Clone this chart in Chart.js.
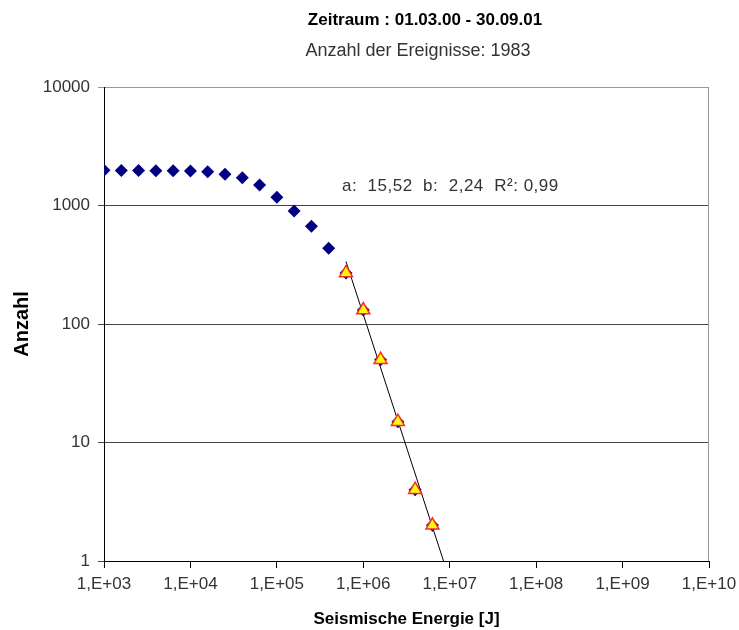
<!DOCTYPE html>
<html>
<head>
<meta charset="utf-8">
<script src="https://cdn.jsdelivr.net/npm/chart.js@4/dist/chart.umd.min.js"></script>
<style>
  html, body { margin: 0; padding: 0; background: #fff; }
  #chart { display: block; }
</style>
</head>
<body>
<canvas id="chart" width="739" height="630"></canvas>
<script>
// Data
const energy = [1000, 1585, 2512, 3981, 6310, 10000, 15849, 25119, 39811, 63096,
  100000, 158489, 251189, 398107, 630957, 1000000, 1584893, 2511886, 3981072, 6309573];
const counts = [1983, 1975, 1970, 1965, 1960, 1955, 1930, 1833, 1718, 1490,
  1173, 899, 667, 435, 270, 131, 50, 15, 4, 2];
const fitEnergy = [630957, 1000000, 1584893, 2511886, 3981072, 6309573];
const fitCounts = [270, 131, 50, 15, 4, 2];
const fitParams = [15.52, 2.24]; // a, b  (log10 N = a - b * log10 E)
const fitRange = [630957, 10000000];
const yTicks = [1, 10, 100, 1000, 10000];
const xTicks = [1e3, 1e4, 1e5, 1e6, 1e7, 1e8, 1e9, 1e10];

const titleText = "Zeitraum : 01.03.00 - 30.09.01";
const subtitleText = "Anzahl der Ereignisse: 1983";
const fitLabel = "a:  15,52  b:  2,24  R²: 0,99";

const FONT = "'Liberation Sans', Arial, sans-serif";
const textGray = "#333";

const trendLine = fitRange.map((e) => ({
  x: e,
  y: Math.pow(10, fitParams[0] - fitParams[1] * Math.log10(e)),
}));

const extras = {
  id: "extras",
  afterDraw(chart) {
    const { ctx, chartArea: a } = chart;
    ctx.save();
    // gray frame right
    ctx.strokeStyle = "#999";
    ctx.lineWidth = 1;
    ctx.beginPath();
    ctx.moveTo(a.right - 0.5, a.top);
    ctx.lineTo(a.right - 0.5, a.bottom);
    ctx.stroke();

    ctx.textAlign = "center";
    ctx.textBaseline = "middle";
    ctx.fillStyle = "#000";
    ctx.font = "bold 17px " + FONT;
    ctx.fillText(titleText, 425, 20);
    ctx.fillStyle = textGray;
    ctx.font = "18px " + FONT;
    ctx.fillText(subtitleText, 418, 51);

    ctx.textAlign = "left";
    ctx.font = "17px " + FONT;
    ctx.letterSpacing = "0.5px";
    ctx.fillText(fitLabel, 342, 186);
    ctx.restore();
  },
};

new Chart(document.getElementById("chart"), {
  type: "scatter",
  data: {
    datasets: [
      {
        label: "Trend",
        type: "line",
        data: trendLine,
        borderColor: "#000",
        borderWidth: 1,
        pointRadius: 0,
        fill: false,
        order: 3,
      },
      {
        label: "Anzahl",
        data: energy.map((e, i) => ({ x: e, y: counts[i] })),
        pointStyle: "rectRot",
        pointRadius: 6.5,
        backgroundColor: "#000080",
        borderColor: "#000080",
        borderWidth: 0,
        order: 2,
      },
      {
        label: "Fit",
        data: fitEnergy.map((e, i) => ({ x: e, y: fitCounts[i] })),
        pointStyle: "triangle",
        pointRadius: 7.5,
        backgroundColor: "#ffff00",
        borderColor: "#ff2a2a",
        borderWidth: 1.5,
        order: 1,
      },
    ],
  },
  options: {
    responsive: false,
    animation: false,
    layout: { padding: { left: 0, right: 30, top: 87, bottom: 0 } },
    plugins: {
      legend: { display: false },
      tooltip: { enabled: false },
    },
    scales: {
      x: {
        type: "logarithmic",
        min: 1e3,
        max: 1e10,
        afterBuildTicks: (s) => { s.ticks = xTicks.map((v) => ({ value: v })); },
        afterFit: (s) => { s.height = 69; s.paddingLeft = 0; s.paddingRight = 0; },
        ticks: {
          color: textGray,
          font: { family: FONT, size: 17 },
          padding: 6,
          maxRotation: 0,
          autoSkip: false,
          callback: (v) => "1,E+" + String(Math.round(Math.log10(v))).padStart(2, "0"),
        },
        grid: { drawOnChartArea: false, drawTicks: true, tickLength: 7, color: "#000" },
        border: { color: "#000", width: 1 },
        title: {
          display: true,
          text: "Seismische Energie [J]",
          color: "#000",
          font: { family: FONT, size: 17, weight: "bold" },
          padding: { top: 0, bottom: 0 },
        },
      },
      y: {
        type: "logarithmic",
        min: 1,
        max: 10000,
        afterBuildTicks: (s) => { s.ticks = yTicks.map((v) => ({ value: v })); },
        afterFit: (s) => { s.width = 104; s.paddingTop = 0; s.paddingBottom = 0; },
        ticks: {
          color: textGray,
          font: { family: FONT, size: 17 },
          padding: 8,
          autoSkip: false,
          callback: (v) => String(v),
        },
        grid: {
          drawTicks: true,
          tickLength: 6,
          color: (c) => (c.tick && c.tick.value === 10000 ? "#999" : "#444"),
        },
        border: { color: "#000", width: 1 },
        title: {
          display: true,
          text: "Anzahl",
          color: "#000",
          font: { family: FONT, size: 20, weight: "bold" },
          padding: { top: 10, bottom: 0 },
        },
      },
    },
  },
  plugins: [extras],
});
</script>
</body>
</html>
